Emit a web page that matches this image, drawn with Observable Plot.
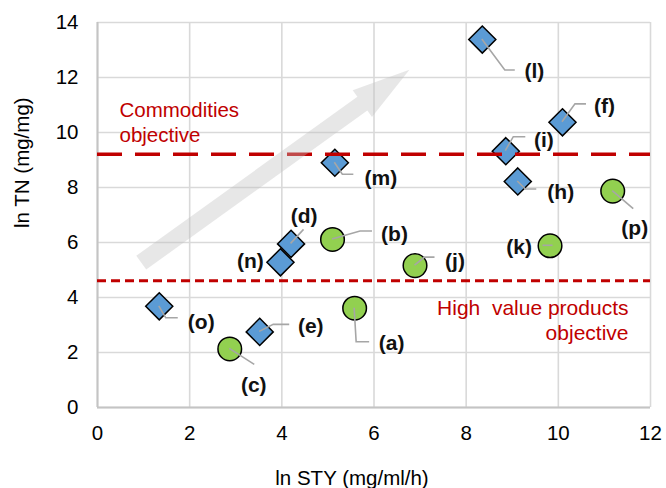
<!DOCTYPE html>
<html><head><meta charset="utf-8">
<script src="https://cdn.jsdelivr.net/npm/d3@7"></script>
<script src="https://cdn.jsdelivr.net/npm/@observablehq/plot@0.6"></script>
<style>
body{margin:0;background:#fff;}
#chart svg{display:block;}
</style>
</head><body><div id="chart"></div>
<script>
// ---- data ----
const ids    = ["a","b","c","d","e","f","h","i","j","k","l","m","n","o","p"];
const lnSTY  = [5.58,5.10,2.87,4.20,3.52,10.09,9.12,8.86,6.89,9.82,8.35,5.15,3.97,1.34,11.18];
const lnTN   = [3.61,6.11,2.13,5.95,2.75,10.37,8.22,9.32,5.16,5.88,13.38,8.90,5.28,3.68,7.87];
const shapes = ["circle","circle","circle","diamond","diamond","diamond","diamond","diamond","circle","circle","diamond","diamond","diamond","diamond","circle"];
const commoditiesObjective = 9.21;   // ln TN
const highValueObjective   = 4.61;   // ln TN
const xTicks = [0,2,4,6,8,10,12];
const yTicks = [0,2,4,6,8,10,12,14];
const trendArrow = {from:[0.96,5.25], to:[6.78,12.26]};

// ---- annotation layout (pixel offsets from the marker centre) ----
const labelLayout = {
  a:{dx:37,dy:35, leader:[[0,0],[2,34],[15,34]]},
  b:{dx:62,dy:-5, leader:[[0,0],[28,-8],[40,-8]]},
  c:{dx:24,dy:36, leader:[[0,0],[25,16]]},
  d:{dx:13,dy:-28,leader:[[0,0],[13,-14]]},
  e:{dx:51,dy:-6, leader:[[0,0],[14,-7],[30,-7]]},
  f:{dx:42,dy:-16,leader:[[0,0],[13,-18],[24,-18]]},
  h:{dx:43,dy:11, leader:[[0,0],[8,8],[19,8]]},
  i:{dx:38,dy:-11,leader:[[0,0],[8,-14],[20,-14]]},
  j:{dx:40,dy:-4, leader:[[0,0],[10,-8],[20,-8]]},
  k:{dx:-31,dy:1, leader:[[-7,0],[3,0]]},
  l:{dx:52,dy:32, leader:[[0,0],[23,31],[33,31]]},
  m:{dx:46,dy:16, leader:[[0,0],[8,12],[19,12]]},
  n:{dx:-30,dy:-1,leader:null},
  o:{dx:42,dy:16, leader:[[0,0],[7,12],[19,12]]},
  p:{dx:22,dy:37, leader:[[0,0],[21,18]]}
};

const points = ids.map((id,i)=>({id, x:lnSTY[i], y:lnTN[i], shape:shapes[i]}));
const RED = "#C00000";
const FONT = "Liberation Sans, Arial, sans-serif";

function leaders(index, scales) {
  const g = d3.create("svg:g");
  points.forEach(p=>{
    const L = labelLayout[p.id];
    if (!L.leader) return;
    const cx = scales.x(p.x), cy = scales.y(p.y);
    g.append("polyline")
      .attr("points", L.leader.map(([a,b])=>`${cx+a},${cy+b}`).join(" "))
      .attr("fill","none").attr("stroke","#a6a6a6").attr("stroke-width",1.6);
  });
  return g.node();
}

function arrow(index, scales) {
  const x0 = scales.x(trendArrow.from[0]), y0 = scales.y(trendArrow.from[1]);
  const x1 = scales.x(trendArrow.to[0]),   y1 = scales.y(trendArrow.to[1]);
  const len = Math.hypot(x1-x0, y1-y0);
  const ux = (x1-x0)/len, uy = (y1-y0)/len;
  const px = -uy, py = ux;
  const sw = 8.5, hw = 16.5, hl = 58;
  const bx = x1 - ux*hl, by = y1 - uy*hl;
  const pts = [
    [x0+px*sw, y0+py*sw],[bx+px*sw, by+py*sw],[bx+px*hw, by+py*hw],[x1,y1],
    [bx-px*hw, by-py*hw],[bx-px*sw, by-py*sw],[x0-px*sw, y0-py*sw]
  ];
  const g = d3.create("svg:g");
  g.append("polygon").attr("points", pts.map(p=>p.join(",")).join(" "))
    .attr("fill","#bfbfbf").attr("fill-opacity",0.38);
  return g.node();
}

const labelMarks = points.map(p => Plot.text([p], {
  x:"x", y:"y", text: d=>`(${d.id})`,
  dx: labelLayout[p.id].dx, dy: labelLayout[p.id].dy,
  fontSize: 21, fontWeight: "bold", fill: "#111", fontFamily: FONT
}));

const chart = Plot.plot({
  width: 666, height: 488,
  marginLeft: 97, marginRight: 16, marginTop: 22, marginBottom: 81,
  style: {fontFamily: FONT, fontSize: "20.5px", color: "#000", background: "#fff"},
  x: {domain:[0,12], label:null},
  y: {domain:[0,14], label:null},
  marks: [
    Plot.gridX(xTicks, {stroke:"#d9d9d9", strokeOpacity:1, strokeWidth:1.6}),
    Plot.gridY(yTicks, {stroke:"#d9d9d9", strokeOpacity:1, strokeWidth:1.6}),
    Plot.ruleX([0], {stroke:"#c4c4c4", strokeWidth:2}),
    Plot.ruleY([0], {stroke:"#c4c4c4", strokeWidth:2}),
    Plot.dot(points.filter(d=>d.shape==="circle"), {x:"x", y:"y", r:11.8, symbol:"circle", fill:"#92D050", stroke:"#000", strokeWidth:1.5}),
    Plot.dot(points.filter(d=>d.shape==="diamond"), {x:"x", y:"y", r:12.2, symbol:"diamond2", fill:"#5B9BD5", stroke:"#000", strokeWidth:1.5}),
    leaders,
    Plot.ruleY([commoditiesObjective], {stroke:RED, strokeWidth:3.5, strokeDasharray:"25,13"}),
    Plot.ruleY([highValueObjective], {stroke:RED, strokeWidth:3, strokeDasharray:"9,5"}),
    arrow,
    ...labelMarks,
    Plot.text([commoditiesObjective], {y:d=>d, frameAnchor:"left", dx:22, dy:-33, text:()=>"Commodities\nobjective",
      textAnchor:"start", lineHeight:1.22, fill:RED, fontSize:20.5}),
    Plot.text([highValueObjective], {y:d=>d, frameAnchor:"right", dx:-22, dy:39, text:()=>"High  value products\nobjective",
      textAnchor:"end", lineHeight:1.17, fill:RED, fontSize:21}),
    Plot.axisX(xTicks, {tickSize:0, tickPadding:18, label:null, fontSize:20.5}),
    Plot.axisY(yTicks, {tickSize:0, tickPadding:19, label:null, fontSize:20.5}),
    Plot.text(["ln STY (mg/ml/h)"], {frameAnchor:"bottom", dx:-22, dy:77, fontSize:20.5}),
    Plot.text(["ln TN (mg/mg)"], {frameAnchor:"left", dx:-75, dy:13, rotate:-90, fontSize:20.5})
  ]
});
document.getElementById("chart").appendChild(chart);
</script>
</body></html>
